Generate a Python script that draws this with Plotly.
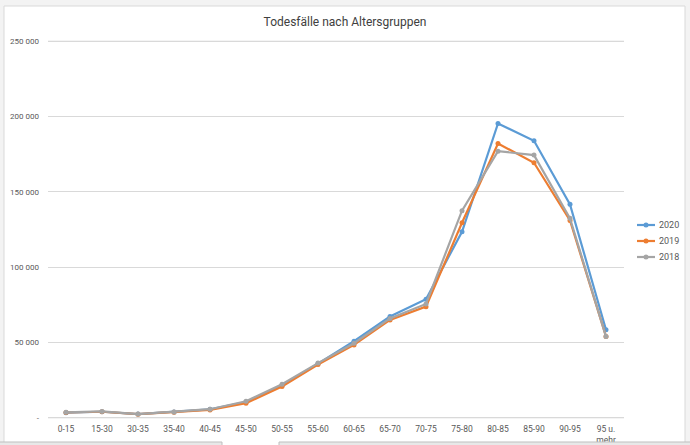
import plotly.graph_objects as go

categories = ["0-15", "15-30", "30-35", "35-40", "40-45", "45-50", "50-55", "55-60",
              "60-65", "65-70", "70-75", "75-80", "80-85", "85-90", "90-95", "95 u.<br>mehr"]
v2020 = [3400, 4000, 2500, 3800, 5600, 10500, 21500, 36000, 50800, 67200, 78700, 123500, 195400, 183900, 141700, 58400]
v2019 = [3500, 4000, 2400, 3700, 5200, 9700, 20700, 35300, 48400, 65000, 73800, 129500, 182100, 169300, 131000, 54000]
v2018 = [3600, 4200, 2500, 3900, 5700, 11000, 22300, 36300, 49500, 66000, 75600, 137500, 177000, 174400, 132400, 53900]
series = [("2020", v2020, "#5B9BD5"), ("2019", v2019, "#ED7D31"), ("2018", v2018, "#A5A5A5")]

ytickvals = [0, 50000, 100000, 150000, 200000, 250000]
yticktext = ["-", "50 000", "100 000", "150 000", "200 000", "250 000"]

FONT = "Roboto, Arial, sans-serif"
W, H = 690, 445
L, R, T, B = 48, 624, 40, 419
PW, PH = R - L, B - T
YMIN, YMAX = -800, 250800


def px(x):
    return (x - L) / PW


def py(y):
    return (B - y) / PH


fig = go.Figure()
for name, vals, col in series:
    fig.add_trace(go.Scatter(
        x=categories, y=vals, name=name, mode="lines+markers",
        line=dict(color=col, width=2.2),
        marker=dict(color=col, size=5),
        showlegend=False,
    ))

shapes = [
    dict(type="rect", xref="paper", yref="paper", layer="below",
         x0=px(4), x1=px(685), y0=py(446), y1=py(6),
         fillcolor="white", line=dict(color="#d9d9d9", width=1)),
    dict(type="rect", xref="paper", yref="paper", layer="above",
         x0=px(-1), x1=px(222), y0=py(447), y1=py(442),
         fillcolor="#e8e8e8", line=dict(color="#bfbfbf", width=1)),
    dict(type="rect", xref="paper", yref="paper", layer="above",
         x0=px(279), x1=px(691), y0=py(447), y1=py(442),
         fillcolor="#e8e8e8", line=dict(color="#bfbfbf", width=1)),
]
# edge gridlines (plotly omits them at the range edges)
for gv in (ytickvals[0], ytickvals[-1]):
    shapes.append(dict(type="line", xref="paper", yref="y", layer="below",
                       x0=0, x1=1, y0=gv, y1=gv, line=dict(color="#d9d9d9", width=1)))

annotations = []
# manual legend
for i, (name, vals, col) in enumerate(series):
    yy = 225 + 16 * i
    shapes.append(dict(type="line", xref="paper", yref="paper",
                       x0=px(637), x1=px(655), y0=py(yy), y1=py(yy),
                       line=dict(color=col, width=2.2)))
    shapes.append(dict(type="circle", xref="paper", yref="paper",
                       x0=px(643.5), x1=px(648.5), y0=py(yy + 2.5), y1=py(yy - 2.5),
                       fillcolor=col, line=dict(color=col, width=0)))
    annotations.append(dict(xref="paper", yref="paper", x=px(657), y=py(yy),
                            xanchor="left", yanchor="middle", showarrow=False,
                            text=name, font=dict(size=9, color="#595959", family=FONT)))

fig.update_layout(
    width=W, height=H,
    paper_bgcolor="#f3f3f3",
    plot_bgcolor="white",
    margin=dict(l=L, r=W - R, t=T, b=H - B, autoexpand=False),
    font=dict(family=FONT, color="#595959", size=9),
    title=dict(text="Todesfälle nach Altersgruppen", x=px(345), xref="paper", xanchor="center",
               y=1 - 22 / H, yanchor="middle",
               font=dict(family=FONT, size=12, color="#404040")),
    showlegend=False,
    xaxis=dict(showgrid=False, showline=False, ticks="", zeroline=False,
               range=[-0.5, 15.5], automargin=False, ticklabelstandoff=3,
               tickfont=dict(size=8.5, color="#595959"), fixedrange=True),
    yaxis=dict(range=[YMIN, YMAX], tickvals=ytickvals, ticktext=yticktext,
               showgrid=True, gridcolor="#d9d9d9", gridwidth=1, zeroline=False,
               showline=False, ticks="", ticklabelstandoff=8, automargin=False,
               tickfont=dict(size=8, color="#595959")),
    shapes=shapes,
    annotations=annotations,
)

fig.write_html("out.html")
